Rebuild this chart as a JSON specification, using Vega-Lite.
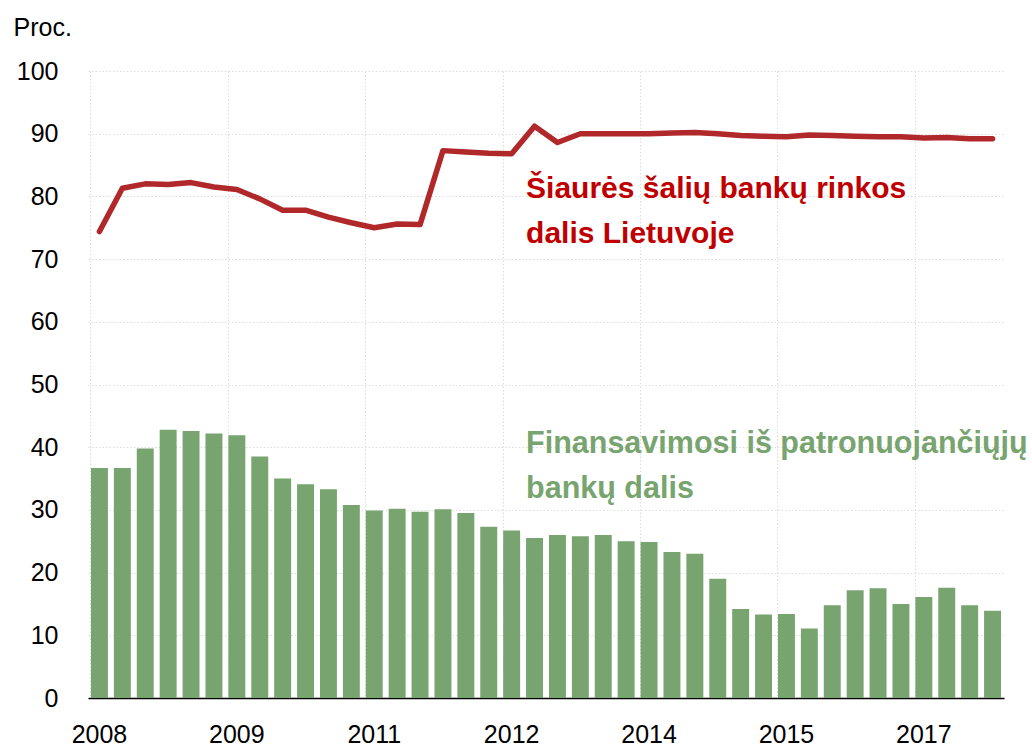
{
  "$schema": "https://vega.github.io/schema/vega-lite/v6.json",
  "width": 916,
  "height": 627,
  "autosize": {"type": "none"},
  "padding": {"left": 88, "top": 71, "right": 28, "bottom": 53},
  "config": {
    "view": {"stroke": null},
    "font": "Liberation Sans, Arial, sans-serif",
    "axis": {"labelColor": "#000000", "labelFont": "Liberation Sans, Arial, sans-serif", "titleFont": "Liberation Sans, Arial, sans-serif"}
  },
  "data": {
    "values": [
      {"q": "2008Q1", "share": 74.4, "fund": 36.7},
      {"q": "2008Q2", "share": 81.3, "fund": 36.7},
      {"q": "2008Q3", "share": 82.0, "fund": 39.8},
      {"q": "2008Q4", "share": 81.9, "fund": 42.8},
      {"q": "2009Q1", "share": 82.2, "fund": 42.6},
      {"q": "2009Q2", "share": 81.5, "fund": 42.2},
      {"q": "2009Q3", "share": 81.1, "fund": 41.9},
      {"q": "2009Q4", "share": 79.6, "fund": 38.5},
      {"q": "2010Q1", "share": 77.8, "fund": 35.0},
      {"q": "2010Q2", "share": 77.8, "fund": 34.1},
      {"q": "2010Q3", "share": 76.7, "fund": 33.3},
      {"q": "2010Q4", "share": 75.8, "fund": 30.8},
      {"q": "2011Q1", "share": 75.0, "fund": 29.9},
      {"q": "2011Q2", "share": 75.6, "fund": 30.2},
      {"q": "2011Q3", "share": 75.5, "fund": 29.7},
      {"q": "2011Q4", "share": 87.3, "fund": 30.1},
      {"q": "2012Q1", "share": 87.1, "fund": 29.5},
      {"q": "2012Q2", "share": 86.9, "fund": 27.3},
      {"q": "2012Q3", "share": 86.8, "fund": 26.7},
      {"q": "2012Q4", "share": 91.2, "fund": 25.5},
      {"q": "2013Q1", "share": 88.6, "fund": 26.0},
      {"q": "2013Q2", "share": 90.0, "fund": 25.8},
      {"q": "2013Q3", "share": 90.0, "fund": 26.0},
      {"q": "2013Q4", "share": 90.0, "fund": 25.0},
      {"q": "2014Q1", "share": 90.0, "fund": 24.9},
      {"q": "2014Q2", "share": 90.1, "fund": 23.3},
      {"q": "2014Q3", "share": 90.2, "fund": 23.0},
      {"q": "2014Q4", "share": 90.0, "fund": 19.0},
      {"q": "2015Q1", "share": 89.7, "fund": 14.2},
      {"q": "2015Q2", "share": 89.6, "fund": 13.3},
      {"q": "2015Q3", "share": 89.5, "fund": 13.4},
      {"q": "2015Q4", "share": 89.8, "fund": 11.1},
      {"q": "2016Q1", "share": 89.7, "fund": 14.8},
      {"q": "2016Q2", "share": 89.6, "fund": 17.2},
      {"q": "2016Q3", "share": 89.5, "fund": 17.5},
      {"q": "2016Q4", "share": 89.5, "fund": 15.0},
      {"q": "2017Q1", "share": 89.3, "fund": 16.1},
      {"q": "2017Q2", "share": 89.4, "fund": 17.6},
      {"q": "2017Q3", "share": 89.2, "fund": 14.8},
      {"q": "2017Q4", "share": 89.2, "fund": 13.9}
    ]
  },
  "layer": [
    {
      "mark": {"type": "bar", "color": "#77A46F"},
      "encoding": {
        "x": {
          "field": "q",
          "type": "ordinal",
          "scale": {"paddingInner": 0.26, "paddingOuter": 0.13},
          "axis": {
            "orient": "bottom",
            "title": null,
            "values": ["2008Q1", "2009Q3", "2011Q1", "2012Q3", "2014Q1", "2015Q3", "2017Q1"],
            "labelExpr": "slice(datum.value, 0, 4)",
            "labelAngle": 0,
            "labelFontSize": 25,
            "labelPadding": 24,
            "ticks": false,
            "grid": false,
            "domain": true,
            "domainColor": "#000000",
            "domainWidth": 1.5
          }
        },
        "y": {
          "field": "fund",
          "type": "quantitative",
          "scale": {"domain": [0, 100], "nice": false},
          "axis": {
            "orient": "left",
            "values": [0, 10, 20, 30, 40, 50, 60, 70, 80, 90, 100],
            "title": "Proc.",
            "titleAngle": 0,
            "titleX": -75,
            "titleY": -36,
            "titleAlign": "left",
            "titleBaseline": "alphabetic",
            "titleFontSize": 25,
            "titleFontWeight": "normal",
            "titleColor": "#000000",
            "labelFontSize": 25,
            "labelPadding": 30,
            "domain": false,
            "ticks": false,
            "grid": true,
            "gridColor": "#DCDCDC",
            "gridDash": [1.5, 2],
            "gridWidth": 1
          }
        }
      }
    },
    {
      "mark": {"type": "line", "color": "#B0282A", "strokeWidth": 5.5, "strokeJoin": "round", "strokeCap": "round"},
      "encoding": {
        "x": {
          "field": "q",
          "type": "ordinal",
          "axis": {
            "orient": "bottom",
            "title": null,
            "values": ["2008Q1", "2009Q3", "2011Q1", "2012Q3", "2014Q1", "2015Q3", "2017Q1"],
            "bandPosition": 0,
            "grid": true,
            "gridColor": "#DCDCDC",
            "gridDash": [1.5, 2],
            "gridWidth": 1,
            "labels": false,
            "ticks": false,
            "domain": false
          }
        },
        "y": {"field": "share", "type": "quantitative", "axis": null}
      }
    },
    {
      "data": {
        "values": [
          {"q": "2012Q4", "v": 79.7, "t": "Šiaurės šalių bankų rinkos"},
          {"q": "2012Q4", "v": 72.6, "t": "dalis Lietuvoje"}
        ]
      },
      "mark": {"type": "text", "align": "left", "baseline": "alphabetic", "fontSize": 30, "fontWeight": "bold", "color": "#C00000"},
      "encoding": {
        "x": {"field": "q", "type": "ordinal", "bandPosition": 0, "axis": null},
        "y": {"field": "v", "type": "quantitative", "axis": null},
        "text": {"field": "t"}
      }
    },
    {
      "data": {
        "values": [
          {"q": "2012Q4", "v": 39.1, "t": "Finansavimosi iš patronuojančiųjų"},
          {"q": "2012Q4", "v": 31.9, "t": "bankų dalis"}
        ]
      },
      "mark": {"type": "text", "align": "left", "baseline": "alphabetic", "fontSize": 30.5, "fontWeight": "bold", "color": "#77A46F"},
      "encoding": {
        "x": {"field": "q", "type": "ordinal", "bandPosition": 0, "axis": null},
        "y": {"field": "v", "type": "quantitative", "axis": null},
        "text": {"field": "t"}
      }
    }
  ],
  "resolve": {"axis": {"x": "independent", "y": "independent"}}
}
